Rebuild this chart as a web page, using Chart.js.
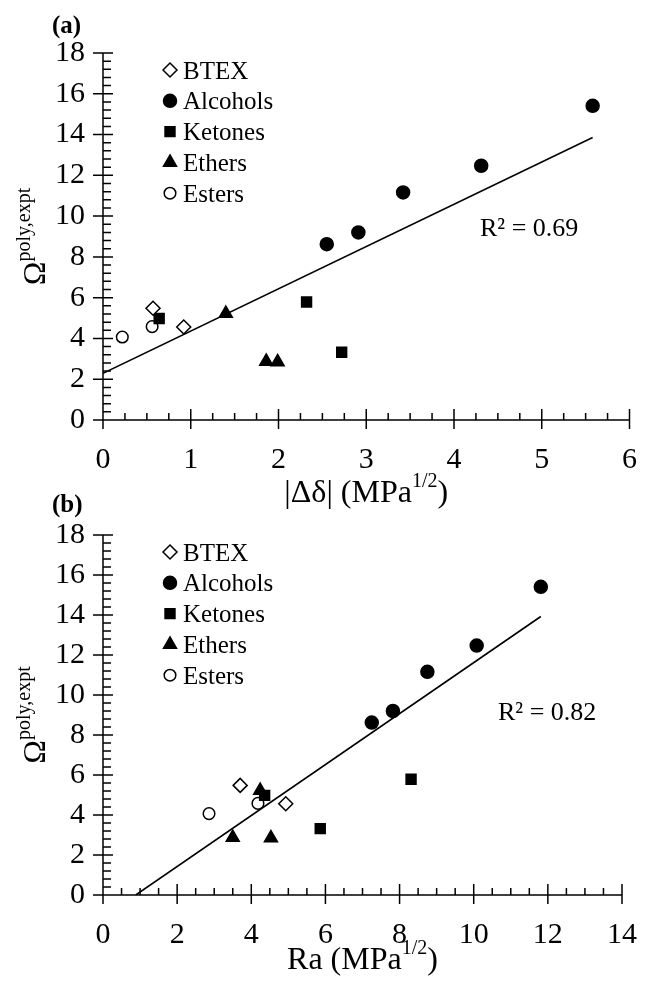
<!DOCTYPE html>
<html>
<head>
<meta charset="utf-8">
<script src="https://cdn.jsdelivr.net/npm/chart.js@4.4.1/dist/chart.umd.min.js"></script>
<style>
    html, body { margin: 0; padding: 0; background: #fff; }
    #wrap { position: relative; width: 659px; height: 981px; }
    canvas { position: absolute; left: 0; }
    #chartA { top: 0; }
    #chartB { top: 490px; }
</style>
</head>
<body>
<div id="wrap">
    <canvas id="chartA" width="659" height="530"></canvas>
    <canvas id="chartB" width="659" height="491"></canvas>
</div>
<script>
const categories = ['BTEX', 'Alcohols', 'Ketones', 'Ethers', 'Esters'];

// Omega(poly,expt), same solvents in both panels
const omegaBtex = [5.48, 4.56];
const omegaAlcohols = [8.62, 9.20, 11.16, 12.47, 15.41];
const omegaKetones = [4.98, 5.79, 3.32];
const omegaEthers = [5.22, 2.87, 2.85];
const omegaEsters = [4.07, 4.58];

// panel (a): |delta delta| (MPa^1/2)
const deltaBtex = [0.57, 0.92];
const deltaAlcohols = [2.55, 2.91, 3.42, 4.31, 5.58];
const deltaKetones = [0.64, 2.32, 2.72];
const deltaEthers = [1.40, 1.86, 1.99];
const deltaEsters = [0.22, 0.56];

// panel (b): Ra (MPa^1/2)
const raBtex = [3.70, 4.93];
const raAlcohols = [7.25, 7.82, 8.75, 10.08, 11.81];
const raKetones = [4.36, 8.31, 5.86];
const raEthers = [4.24, 3.50, 4.53];
const raEsters = [2.86, 4.18];

const xTicksA = [0, 1, 2, 3, 4, 5, 6];
const xTicksB = [0, 2, 4, 6, 8, 10, 12, 14];
const yTicks = [0, 2, 4, 6, 8, 10, 12, 14, 16, 18];

const r2A = 'R\u00b2 = 0.69';
const r2B = 'R\u00b2 = 0.82';

const FONT = '"Liberation Serif", "Times New Roman", serif';

const markers = {
    BTEX: { pointStyle: 'rectRot', radius: 7, fill: '#fff' },
    Alcohols: { pointStyle: 'circle', radius: 6.5, fill: '#000' },
    Ketones: { pointStyle: 'rect', radius: 7, fill: '#000' },
    Ethers: { pointStyle: 'triangle', radius: 7.5, fill: '#000' },
    Esters: { pointStyle: 'circle', radius: 5.8, fill: '#fff' },
};

function zip(xs, ys) {
    return xs.map((x, i) => ({ x: x, y: ys[i] }));
}

function linearFit(pts) {
    let n = pts.length;
    let mx = pts.reduce((s, p) => s + p.x, 0) / n;
    let my = pts.reduce((s, p) => s + p.y, 0) / n;
    let sxy = 0, sxx = 0;
    pts.forEach(p => { sxy += (p.x - mx) * (p.y - my); sxx += (p.x - mx) ** 2; });
    let b = sxy / sxx;
    return { a: my - b * mx, b: b };
}

function drawMarker(ctx, style, x, y, r, fill) {
    ctx.beginPath();
    if (style === 'circle') {
        ctx.arc(x, y, r, 0, Math.PI * 2);
    } else if (style === 'rect') {
        let s = r * Math.SQRT1_2;
        ctx.rect(x - s, y - s, 2 * s, 2 * s);
    } else if (style === 'rectRot') {
        ctx.moveTo(x, y - r); ctx.lineTo(x + r, y); ctx.lineTo(x, y + r); ctx.lineTo(x - r, y);
    } else if (style === 'triangle') {
        ctx.moveTo(x, y - r);
        ctx.lineTo(x + Math.sin(2 * Math.PI / 3) * r, y - Math.cos(2 * Math.PI / 3) * r);
        ctx.lineTo(x + Math.sin(4 * Math.PI / 3) * r, y - Math.cos(4 * Math.PI / 3) * r);
    }
    ctx.closePath();
    ctx.fillStyle = fill;
    ctx.fill();
    ctx.lineWidth = 1.5;
    ctx.strokeStyle = '#000';
    ctx.stroke();
}

function drawSupText(ctx, parts, x, y, align) {
    // parts: [text, size, raise]
    let widths = parts.map(p => { ctx.font = p[1] + 'px ' + FONT; return ctx.measureText(p[0]).width; });
    let total = widths.reduce((a, b) => a + b, 0);
    let cx = align === 'center' ? x - total / 2 : x;
    ctx.textAlign = 'left';
    ctx.textBaseline = 'alphabetic';
    parts.forEach((p, i) => {
        ctx.font = p[1] + 'px ' + FONT;
        ctx.fillText(p[0], cx, y - p[2]);
        cx += widths[i];
    });
}

function decorations(cfg) {
    return {
        id: 'decor',
        afterDraw(chart) {
            const { ctx, chartArea: a, scales: { x, y } } = chart;
            ctx.save();
            ctx.strokeStyle = '#000';
            ctx.fillStyle = '#000';
            ctx.lineWidth = 1.5;

            // axis lines and tick marks
            ctx.beginPath();
            ctx.moveTo(a.left, a.top);
            ctx.lineTo(a.left, a.bottom);
            ctx.lineTo(a.right, a.bottom);
            let ny = Math.round((y.max - y.min) / cfg.minorY);
            for (let i = 0; i <= ny; i++) {
                let py = y.getPixelForValue(y.min + i * cfg.minorY);
                let major = i % cfg.majorEveryY === 0;
                ctx.moveTo(major ? a.left - 10 : a.left, py);
                ctx.lineTo(a.left + (major ? 10 : 8), py);
            }
            let nx = Math.round((x.max - x.min) / cfg.minorX);
            for (let i = 0; i <= nx; i++) {
                let px = x.getPixelForValue(x.min + i * cfg.minorX);
                let major = i % cfg.majorEveryX === 0;
                ctx.moveTo(px, major ? a.bottom + 9 : a.bottom);
                ctx.lineTo(px, a.bottom - (major ? 11 : 7));
            }
            ctx.stroke();

            // panel label
            ctx.font = 'bold 25px ' + FONT;
            ctx.textAlign = 'left';
            ctx.textBaseline = 'alphabetic';
            ctx.fillText(cfg.panel, 52, cfg.panelY);

            // x title
            drawSupText(ctx, cfg.xTitle, (a.left + a.right) / 2, cfg.xTitleY, 'center');

            // y title (rotated)
            ctx.save();
            ctx.translate(45, (a.top + a.bottom) / 2);
            ctx.rotate(-Math.PI / 2);
            drawSupText(ctx, [['\u03a9', 32, 0], ['poly,expt', 20, 15]], 0, 0, 'center');
            ctx.restore();

            // legend
            categories.forEach((c, i) => {
                let m = markers[c];
                let ly = cfg.legendY + i * 30.8;
                drawMarker(ctx, m.pointStyle, 170, ly, m.radius, m.fill);
                ctx.fillStyle = '#000';
                ctx.font = '25px ' + FONT;
                ctx.textAlign = 'left';
                ctx.textBaseline = 'alphabetic';
                ctx.fillText(c, 183, ly + 8.5);
            });

            // R squared
            ctx.font = '26px ' + FONT;
            ctx.fillText(cfg.r2, cfg.r2X, cfg.r2Y);
            ctx.restore();
        }
    };
}

function makeChart(canvasId, xs, xMax, xStep, cfg, pad, xAxisHeight) {
    let groups = {
        BTEX: zip(xs[0], omegaBtex),
        Alcohols: zip(xs[1], omegaAlcohols),
        Ketones: zip(xs[2], omegaKetones),
        Ethers: zip(xs[3], omegaEthers),
        Esters: zip(xs[4], omegaEsters),
    };
    let all = [].concat(...Object.values(groups));
    let fit = linearFit(all);
    let x0 = Math.max(0, -fit.a / fit.b);
    let x1 = Math.max(...all.map(p => p.x));
    let trend = [{ x: x0, y: fit.a + fit.b * x0 }, { x: x1, y: fit.a + fit.b * x1 }];

    let datasets = categories.map(c => ({
        label: c,
        data: groups[c],
        pointStyle: markers[c].pointStyle,
        pointRadius: markers[c].radius,
        pointHoverRadius: markers[c].radius,
        backgroundColor: markers[c].fill,
        borderColor: '#000',
        borderWidth: 1.5,
    }));
    datasets.push({
        label: 'trend',
        data: trend,
        showLine: true,
        pointRadius: 0,
        borderColor: '#000',
        borderWidth: 1.6,
        fill: false,
    });

    return new Chart(document.getElementById(canvasId), {
        type: 'scatter',
        data: { datasets: datasets },
        options: {
            responsive: false,
            animation: false,
            devicePixelRatio: 1,
            layout: { padding: pad },
            plugins: { legend: { display: false }, tooltip: { enabled: false } },
            scales: {
                x: {
                    type: 'linear', min: 0, max: xMax,
                    grid: { display: false, drawTicks: false },
                    border: { display: false },
                    ticks: { stepSize: xStep, maxRotation: 0, autoSkip: false, padding: 22, color: '#000',
                             font: { family: FONT, size: 30 } },
                    afterFit: s => { s.height = xAxisHeight; },
                },
                y: {
                    min: 0, max: 18,
                    grid: { display: false, drawTicks: false },
                    border: { display: false },
                    ticks: { stepSize: 2, padding: 18, color: '#000', font: { family: FONT, size: 30 } },
                    afterFit: s => { s.width = 103; },
                },
            },
        },
        plugins: [decorations(cfg)],
    });
}

makeChart('chartA',
    [deltaBtex, deltaAlcohols, deltaKetones, deltaEthers, deltaEsters],
    xTicksA[xTicksA.length - 1], xTicksA[1] - xTicksA[0],
    {
        panel: '(a)', panelY: 33,
        xTitle: [['|\u0394\u03b4| (MPa', 32, 0], ['1/2', 20, 15], [')', 32, 0]], xTitleY: 502,
        minorX: 0.25, majorEveryX: 4, minorY: 0.4, majorEveryY: 5,
        legendY: 70, r2: r2A, r2X: 480, r2Y: 236,
    },
    { top: 53, right: 26, left: 0, bottom: 0 }, 110);

makeChart('chartB',
    [raBtex, raAlcohols, raKetones, raEthers, raEsters],
    xTicksB[xTicksB.length - 1], xTicksB[1] - xTicksB[0],
    {
        panel: '(b)', panelY: 22,
        xTitle: [['Ra (MPa', 32, 0], ['1/2', 20, 15], [')', 32, 0]], xTitleY: 479,
        minorX: 0.5, majorEveryX: 4, minorY: 0.4, majorEveryY: 5,
        legendY: 62, r2: r2B, r2X: 498, r2Y: 230,
    },
    { top: 45, right: 20, left: 0, bottom: 0 }, 86);
</script>
</body>
</html>
